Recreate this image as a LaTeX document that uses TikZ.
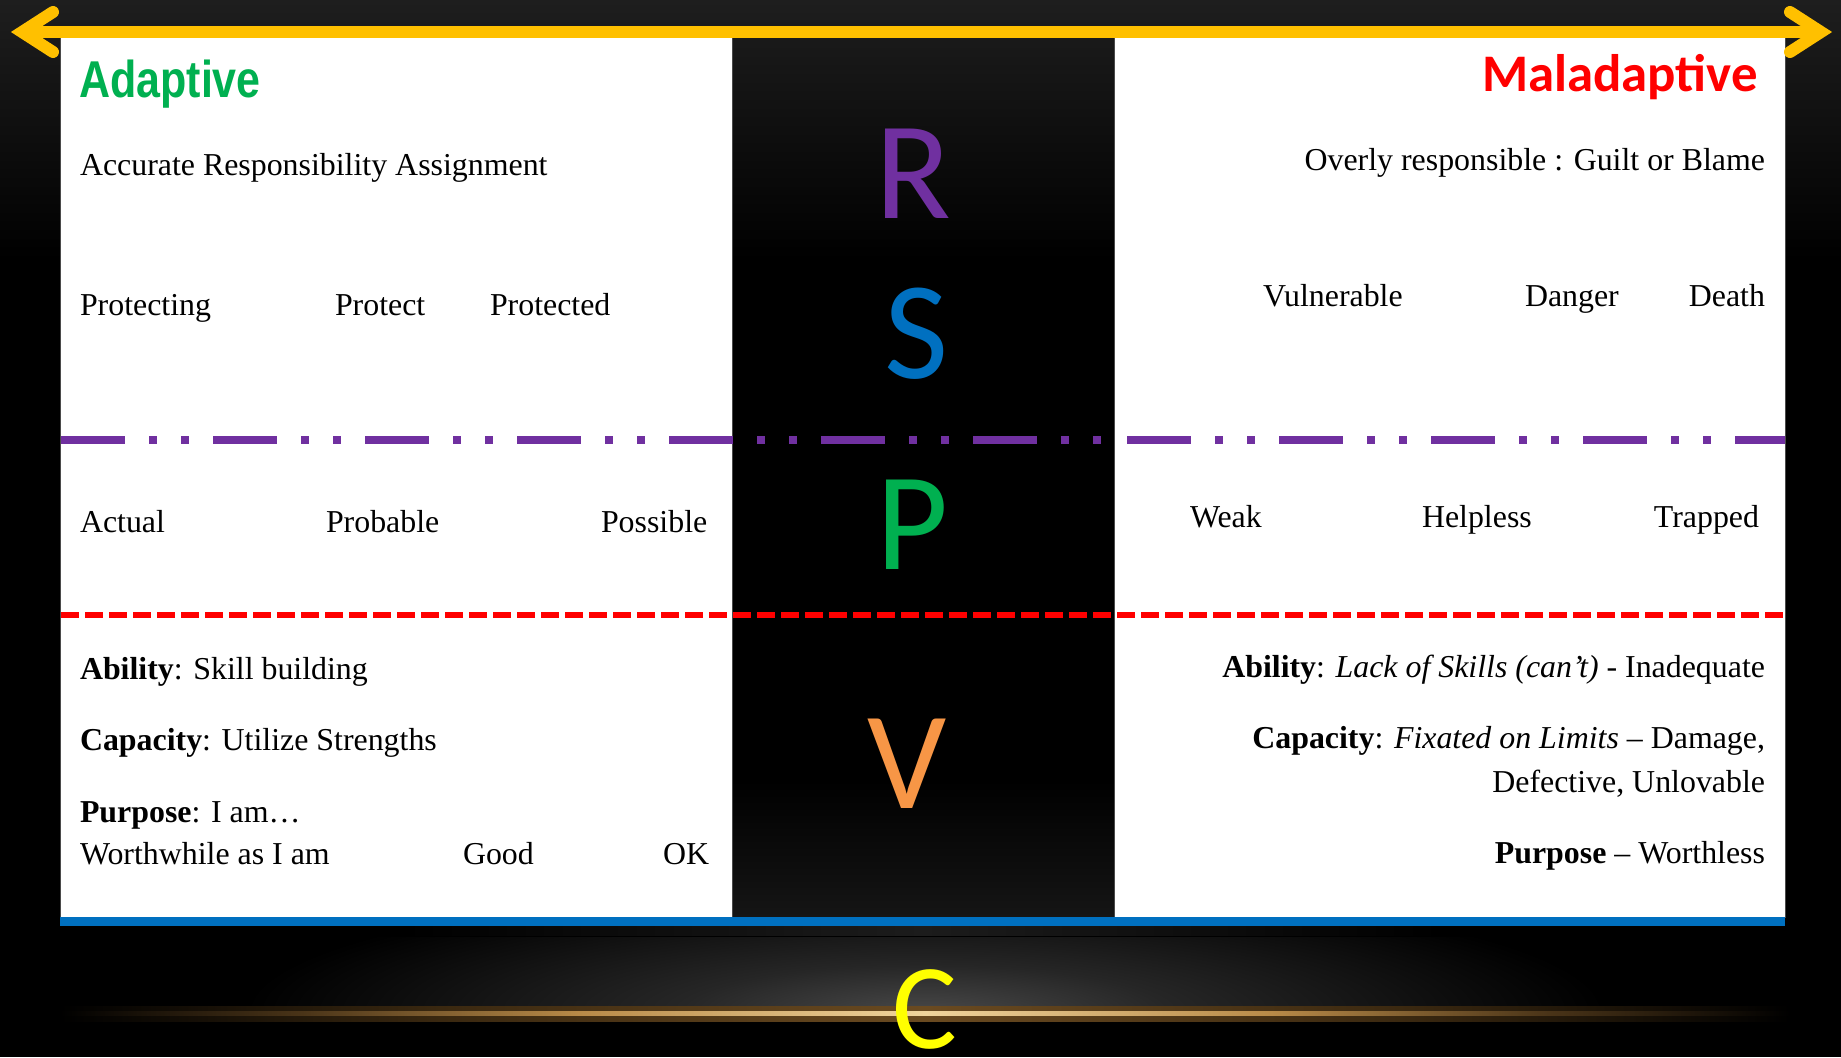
\documentclass[tikz,border=0pt]{standalone}
\usepackage{fontspec}
\setmainfont{Liberation Serif}
\newfontfamily\headfont[FakeStretch=0.83]{Liberation Sans}
\newfontfamily\calfont{Carlito}

\definecolor{arrowgold}{HTML}{FFC000}
\definecolor{rpurple}{HTML}{7030A0}
\definecolor{sblue}{HTML}{0070C0}
\definecolor{pgreen}{HTML}{00B050}
\definecolor{vorange}{HTML}{F79646}
\definecolor{cyellow}{HTML}{FFFF00}
\definecolor{adgreen}{HTML}{00B050}
\definecolor{malred}{HTML}{FF0000}
\definecolor{lineblue}{HTML}{0070C0}
\definecolor{bgtop}{HTML}{1E1E1E}
\definecolor{panelline}{HTML}{4A4A4A}
\definecolor{glowgray}{HTML}{484848}
\definecolor{glowmid}{HTML}{262626}
\definecolor{stripgray}{HTML}{1C1C1C}
\definecolor{colglow}{HTML}{151515}
\definecolor{goldhi}{HTML}{F0D49C}
\definecolor{goldmid}{HTML}{B88A48}
\definecolor{goldlow}{HTML}{4A3418}
\definecolor{amberhi}{HTML}{6A4A20}
\definecolor{ambermid}{HTML}{3A2810}

% horizon light below the table (the path box spans 25bp..75bp of each shading)
\pgfdeclareradialshading{horizonglow}{\pgfpoint{0bp}{0bp}}{color(0bp)=(glowgray); color(9bp)=(glowmid); color(25bp)=(black); color(50bp)=(black)}
\pgfdeclarehorizontalshading{goldcore}{100bp}{color(0bp)=(black); color(25bp)=(black); color(32bp)=(goldlow); color(40bp)=(goldmid); color(50bp)=(goldhi); color(60bp)=(goldmid); color(68bp)=(goldlow); color(75bp)=(black); color(100bp)=(black)}
\pgfdeclarehorizontalshading{goldhalo}{100bp}{color(0bp)=(black); color(25bp)=(black); color(36bp)=(ambermid); color(50bp)=(amberhi); color(64bp)=(ambermid); color(75bp)=(black); color(100bp)=(black)}
\pgfdeclarehorizontalshading{stripshade}{100bp}{color(0bp)=(black); color(25bp)=(black); color(35bp)=(black); color(50bp)=(stripgray); color(65bp)=(black); color(75bp)=(black); color(100bp)=(black)}

\tikzset{
  panel/.style={fill=white, draw=panelline, line width=1bp},
  txt/.style={inner sep=0pt, outer sep=0pt, font=\fontsize{32}{38}\selectfont, text=black},
  txtl/.style={txt, anchor=base west},
  txtr/.style={txt, anchor=base east},
  bigletter/.style={inner sep=0pt, anchor=base, font=\calfont\fontsize{140}{150}\selectfont},
  arrowstroke/.style={draw=arrowgold, line width=12bp},
  chevron/.style={arrowstroke, line cap=round, line join=miter},
  rsline/.style={draw=rpurple, line width=8bp, dash pattern=on 64bp off 24bp on 8bp off 24bp on 8bp off 24bp},
  pvline/.style={draw=malred, line width=6bp, dash pattern=on 18bp off 6bp},
}

\begin{document}
\begin{tikzpicture}[x=1bp,y=-1bp]
\useasboundingbox (0,0) rectangle (1841,1057);

% background
\fill[black] (0,0) rectangle (1841,1057);
\shade[top color=bgtop, bottom color=black] (0,0) rectangle (1841,260);
\shade[top color=black, bottom color=colglow] (732,780) rectangle (1114,917);

% horizon below the blue rule
\shade[shading=stripshade] (60,926) rectangle (1785,935);
\begin{scope}
  \clip (0,937) rectangle (1841,1012);
  \shade[shading=horizonglow] (925,1012) ellipse (680 and 130);
\end{scope}
\shade[shading=goldhalo] (60,1006) rectangle (1790,1021);
\shade[shading=goldcore] (60,1011) rectangle (1790,1015.5);

% corner points of the two panels
\coordinate (lp-nw) at (60,32);
\coordinate (lp-se) at (732,917);
\coordinate (rp-nw) at (1114,32);
\coordinate (rp-se) at (1785,917);
\path[panel] (lp-nw) rectangle (lp-se);
\path[panel] (rp-nw) rectangle (rp-se);

% separator lines
\coordinate (rs-a) at (61,440);
\coordinate (rs-b) at (1114,440);
\coordinate (rs-c) at (1127,440);
\coordinate (rs-d) at (1785,440);
\draw[rsline] (rs-a) -- (rs-b);
\draw[rsline] (rs-c) -- (rs-d);
\coordinate (pv-a) at (61,615);
\coordinate (pv-b) at (1785,615);
\draw[pvline] (pv-a) -- (pv-b);
\coordinate (bl-a) at (60,921.5);
\coordinate (bl-b) at (1785,921.5);
\draw[draw=lineblue, line width=9bp] (bl-a) -- (bl-b);

% double-headed arrow along the top
\coordinate (al) at (22,32);
\coordinate (ar) at (1821,32);
\draw[arrowstroke] (al) -- (ar);
\draw[chevron] (53,12) -- (al) -- (53,52);
\draw[chevron] (1790,12) -- (ar) -- (1790,52);

% column letters
\node[bigletter, text=rpurple] (R) at (913,218) {R};
\node[bigletter, text=sblue] (S) at (917,378) {S};
\node[bigletter, text=pgreen] (P) at (913,569) {P};
\node[bigletter, text=vorange] (V) at (907,808) {V};
\node[inner sep=0pt, anchor=base, font=\calfont\fontsize{122}{130}\selectfont, text=cyellow] (C) at (925,1048) {C};

% headings
\node[inner sep=0pt, anchor=base west, font=\headfont\bfseries\fontsize{52}{60}\selectfont, text=adgreen] (adaptive) at (79,97) {Adaptive};
\node[inner sep=0pt, anchor=base east, font=\calfont\bfseries\fontsize{53}{60}\selectfont, text=malred] (maladaptive) at (1758,91) {Maladaptive};

% adaptive side
\node[txtl] (l1) at (80,175) {Accurate Responsibility Assignment};
\node[txtl] (l2a) at (80,315) {Protecting};
\node[txtl] (l2b) at (335,315) {Protect};
\node[txtl] (l2c) at (490,315) {Protected};
\node[txtl] (l3a) at (80,532) {Actual};
\node[txtl] (l3b) at (326,532) {Probable};
\node[txtl] (l3c) at (601,532) {Possible};
\node[txtl] (l4) at (80,679) {\textbf{Ability}: Skill building};
\node[txtl] (l5) at (80,750) {\textbf{Capacity}: Utilize Strengths};
\node[txtl] (l6) at (80,822) {\textbf{Purpose}: I am…};
\node[txtl] (l7a) at (80,864) {Worthwhile as I am};
\node[txtl] (l7b) at (463,864) {Good};
\node[txtl] (l7c) at (663,864) {OK};

% maladaptive side
\node[txtr] (r1) at (1765,170) {Overly responsible : Guilt or Blame};
\node[txtl] (r2a) at (1263,306) {Vulnerable};
\node[txtl] (r2b) at (1525,306) {Danger};
\node[txtr] (r2c) at (1765,306) {Death};
\node[txtl] (r3a) at (1190,527) {Weak};
\node[txtl] (r3b) at (1422,527) {Helpless};
\node[txtr] (r3c) at (1759,527) {Trapped};
\node[txtr] (r4) at (1765,677) {\textbf{Ability}: \textit{Lack of Skills (can’t)} - Inadequate};
\node[txtr] (r5) at (1765,748) {\textbf{Capacity}: \textit{Fixated on Limits} – Damage,};
\node[txtr] (r6) at (1765,792) {Defective, Unlovable};
\node[txtr] (r7) at (1765,863) {\textbf{Purpose} – Worthless};
\end{tikzpicture}
\end{document}
